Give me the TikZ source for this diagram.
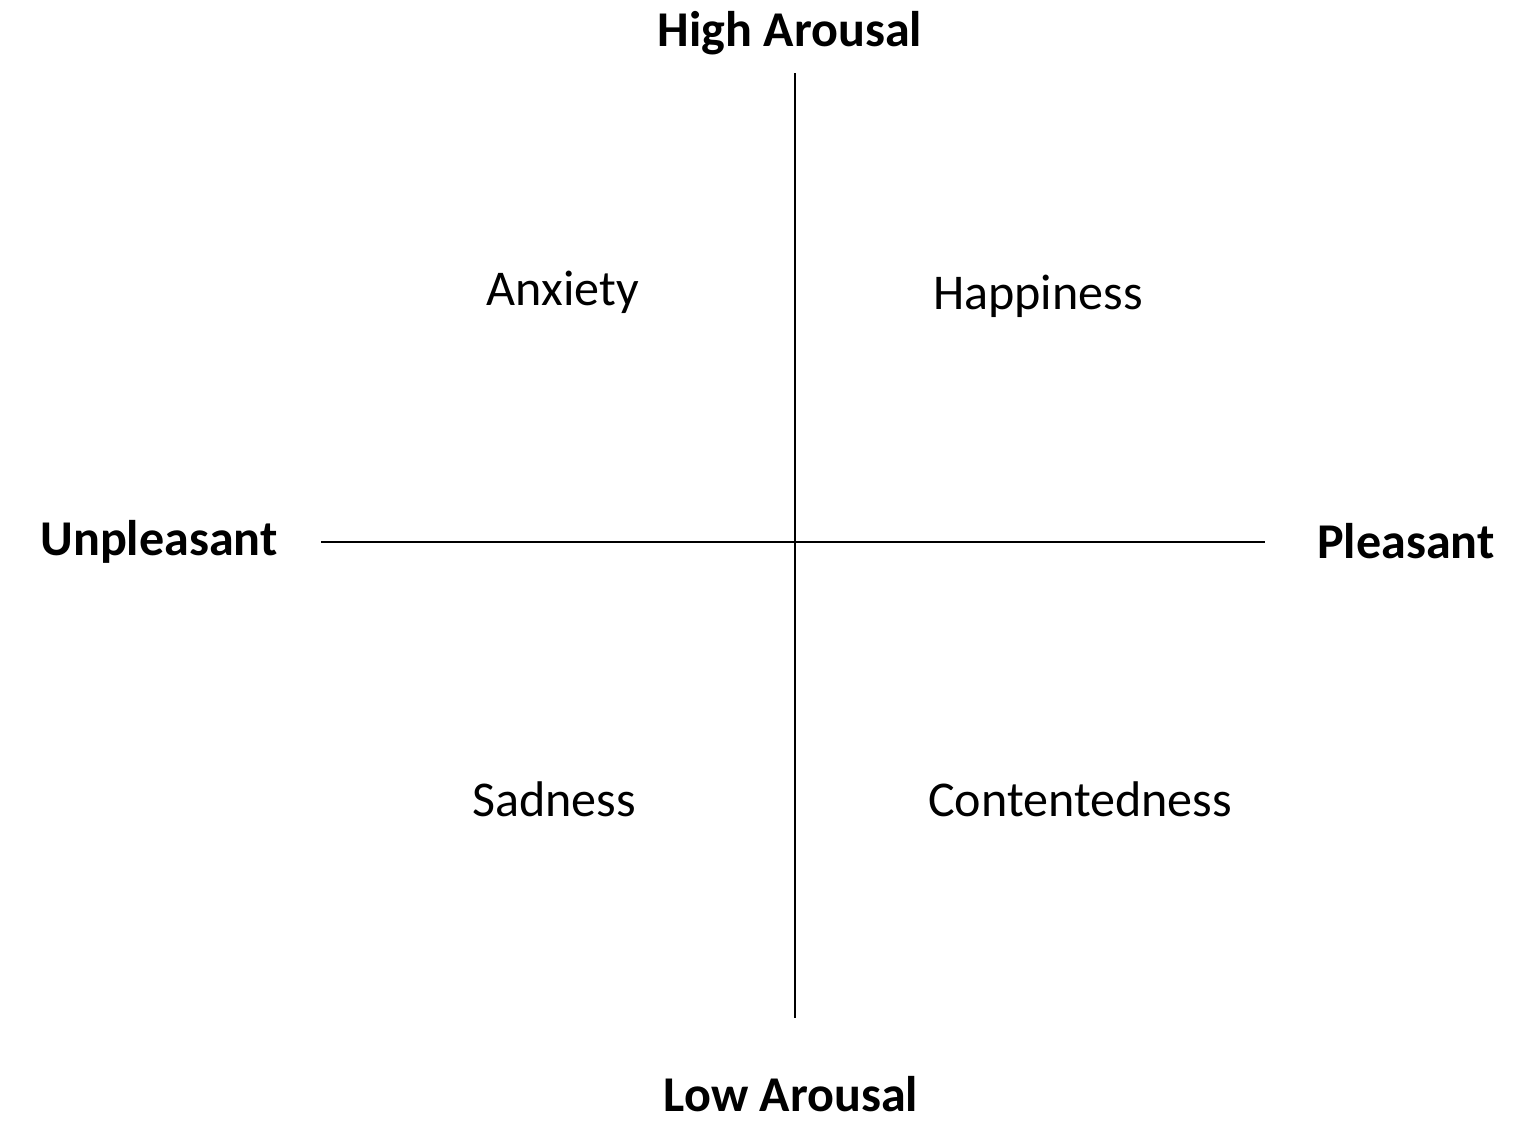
\documentclass[tikz,border=0pt]{standalone}
\usepackage{fontspec}
\setmainfont{Carlito}
\usepackage{tikz}
\usetikzlibrary{positioning}

\begin{document}
\begin{tikzpicture}[
  axislbl/.style={inner sep=0pt,anchor=base,font=\fontsize{14.25}{17}\selectfont\bfseries},
  emo/.style={inner sep=0pt,anchor=base,font=\fontsize{14.25}{17}\selectfont},
  axisline/.style={line width=0.7pt,black}]
  \useasboundingbox (0,0) rectangle (15.39,11.39);
  % axes
  \coordinate (top) at (7.95,10.66);
  \coordinate (bot) at (7.95,1.21);
  \coordinate (lft) at (3.21,5.97);
  \coordinate (rgt) at (12.65,5.97);
  \draw[axisline] (top) -- (bot);
  \draw[axisline] (lft) -- (rgt);
  % axis labels
  \node[axislbl] (high) at (7.90,10.93) {High Arousal};
  \node[axislbl] (low) at (7.91,0.28) {Low Arousal};
  \node[axislbl] (unpl) at (1.59,5.84) {Unpleasant};
  \node[axislbl] (pl) at (14.06,5.81) {Pleasant};
  % quadrants
  \node[emo] (anx) at (5.63,8.34) {Anxiety};
  \node[emo] (hap) at (10.38,8.30) {Happiness};
  \node[emo] (sad) at (5.54,3.23) {Sadness};
  \node[emo] (con) at (10.80,3.23) {Contentedness};
\end{tikzpicture}
\end{document}
